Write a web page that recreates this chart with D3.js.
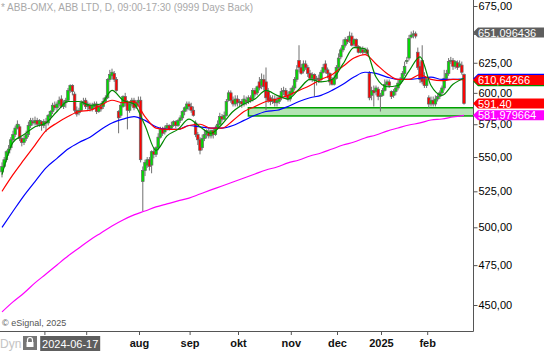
<!DOCTYPE html>
<html>
<head>
<meta charset="utf-8">
<script src="https://cdn.jsdelivr.net/npm/d3@7"></script>
<style>
  body { margin: 0; background: #fff; }
  svg { display: block; font-family: "Liberation Sans", Arial, sans-serif; }
</style>
</head>
<body>
<svg id="chart" width="544" height="351"></svg>
<script>
// ABB-OMX daily candles (SEK)
let opens = [
  539,543,548,553,557,563,567,572,573,564, 561,564,567,574,577,576,578,575,577,574,
  577,576,581,585,590,588,591,595,589,592, 594,602,606,599,586,584,586,592,594,589,
  590,587,589,591,585,589,589,593,596,611, 614,616,611,585,582,589,597,592,586,591,
  594,589,592,594,532,540,544,548,544,554, 552,557,565,571,569,572,574,572,574,577,
  574,578,580,585,587,591,589,586,576,567, 563,557,564,567,569,566,570,567,572,575,
  581,579,582,594,600,594,591,595,592,593, 591,594,593,596,595,602,600,609,606,611,
  609,601,596,593,595,592,593,596,601,602, 598,595,600,604,611,627,621,618,624,621,
  616,612,615,611,612,611,617,624,619,616, 611,607,612,621,630,636,640,645,644,648,
  641,645,639,634,636,634,636,616,598,602, 601,603,597,598,602,607,609,601,598,601,
  604,608,611,616,626,629,647,649,650,634, 622,627,612,606,596,591,594,591,595,597,
  600,604,612,616,626,627,622,625,622,623, 615
];
let highs = [
  546,550,555,559,565,570,574,578,575,565, 566,570,577,580,580,581,580,579,578,579,
  580,583,586,592,593,593,597,598,594,596, 604,607,607,601,589,588,594,596,596,593,
  592,592,593,593,591,592,596,598,612,619, 620,618,613,586,592,598,600,594,593,596,
  596,594,597,597,543,548,550,550,555,557, 558,568,573,573,574,576,575,577,578,578,
  579,582,586,589,593,593,592,589,578,569, 565,567,571,571,572,571,572,574,578,584,
  583,585,595,602,602,597,598,598,595,595, 598,597,598,598,604,604,606,613,616,615,
  621,604,598,598,598,597,598,604,605,604, 601,604,606,613,623,640,624,627,627,623,
  619,617,616,614,615,619,624,627,621,617, 613,615,623,633,638,645,647,648,652,651,
  646,646,640,639,639,638,638,618,605,606, 606,605,600,604,611,611,611,602,603,606,
  611,613,618,626,630,649,652,653,652,638, 626,640,617,613,598,597,597,598,599,602,
  606,619,619,629,630,629,627,627,627,626, 616
];
let lows = [
  535,542,546,551,555,561,565,571,562,558, 559,562,565,572,574,574,573,573,570,572,
  569,574,578,583,586,585,589,588,587,588, 593,600,598,584,581,582,585,590,587,586,
  585,585,588,583,584,585,587,592,595,609, 611,609,601,568,580,588,589,571,584,589,
  586,587,590,546,511,536,542,540,538,549, 550,555,564,566,567,570,570,571,573,572,
  573,576,578,582,585,586,584,581,565,559, 552,555,562,564,564,564,564,566,571,574,
  577,578,581,593,592,589,589,589,589,588, 589,590,591,592,593,597,598,602,603,602,
  586,592,590,591,589,589,591,594,598,596, 593,593,598,602,609,617,615,616,619,613,
  610,609,597,606,608,609,616,616,612,606, 606,606,611,619,628,634,638,641,642,639,
  639,638,633,633,632,633,631,594,594,589, 598,594,585,597,601,605,604,595,596,598,
  602,606,609,614,624,627,646,646,646,619, 608,607,604,604,588,589,589,589,593,595,
  598,602,611,614,624,619,620,619,621,615, 590.5
];
let closes = [
  543,548,554,556,563,567,572,575,564,561, 564,567,574,578,576,578,575,578,574,577,
  576,582,585,590,588,591,594,589,592,594, 602,606,601,586,583,586,592,593,589,591,
  587,590,591,585,589,587,593,596,611,615, 617,611,602,580,590,597,592,586,591,594,
  588,592,594,548,540,546,548,543,554,552, 557,565,571,568,572,574,571,574,577,574,
  578,580,585,588,591,589,586,582,567,563, 555,564,567,570,566,570,567,572,575,581,
  579,582,593,600,594,591,595,592,593,591, 595,593,596,594,602,599,605,604,611,605,
  596,594,593,595,592,594,596,601,602,598, 595,601,604,611,619,621,616,624,621,616,
  612,615,611,612,611,617,621,619,616,609, 607,612,621,629,636,640,645,643,648,640,
  645,639,634,637,634,636,633,596,602,600, 604,597,598,602,607,609,606,597,601,604,
  608,611,616,622,627,646,649,650,648,621, 611,609,606,611,591,594,591,595,597,600,
  604,612,616,626,627,622,626,621,624,617, 591.4
];

// moving averages, one reading every 5th candle
let maEvery = 5;
let maGreen = [537,561,567,573,576,585,593,593,590,591,602,594,591,574,555,566,571,579,573,568,575,
  585,591,595,602,598,595,603,611,609,611,624,638,637,613,605,606,618,630,606,598,607,612];
let maRed = [525,537,548,559,570,576,581,585,586,590,594,592,593,581,572,571,571,574,575,572,572,
  578,585,589,593,595,598,602,606,611,615,622,629,632,624,616,611,611,615,611,610,611,610.64266];
let maBlue = [500,511,522,532,542,549,556,561,565,571,576,579,581,578,573,571,571,574,573,572,572,
  574,578,582,585,586,589,593,596,598,602,607,613,617,616,613,611,611,612,613,611,611,611.5];
let maMagenta = [445.8,451.9,457.4,463.7,469.3,475.1,480.9,486.2,491.5,496.2,500.9,505.0,508.5,511.2,
  514.0,516.1,518.2,520.2,523.1,526.0,528.8,531.7,534.6,537.5,540.4,542.6,545.6,547.8,550.8,553.0,
  556.0,559.0,561.3,564.4,566.7,569.7,572.1,574.4,576.0,578.3,579.1,580.7,581.979664];

// support zone
let zoneLow = 581.5, zoneHigh = 588, zoneFrom = 112;

let priceTicks = [450, 475, 500, 525, 550, 575, 600, 625, 650, 675];
let hiddenTickLabels = [650];   // sits under the 651 tag
let monthNames = ["jun", "jul", "aug", "sep", "okt", "nov", "dec", "2025", "feb"];
let monthFirst = [20, 39, 63, 86, 108, 132, 153, 173, 194];   // candle index of first day

let tagValues = [611.5, 609.6, 610.64266, 651.096436, 591.40, 581.979664];
let tagTexts  = ["", "", "610,64266", "651,096436", "591,40", "581,979664"];
let tagColors = ["#0000ff", "#009000", "#ff0000", "#5e5e5e", "#ff0000", "#ff00ff"];

let cursorDate = "2024-06-17", cursorIndex = 31;

let svg = d3.select("#chart");
let plotRight = 473, plotBottom = 331;

let x = d3.scaleLinear().domain([0, closes.length - 1]).range([2, 464]);
let y = d3.scaleLog().domain([450, 675]).range([305, 6]);

svg.append("defs").append("clipPath").attr("id", "plot")
  .append("rect").attr("x", 0).attr("y", 0).attr("width", plotRight).attr("height", plotBottom);

let plot = svg.append("g").attr("clip-path", "url(#plot)");

// title
svg.append("text")
  .attr("x", 1).attr("y", 11)
  .attr("font-size", 10).attr("fill", "#a8a8a8")
  .text("* ABB-OMX, ABB LTD, D, 09:00-17:30 (9999 Days Back)");

// zone
plot.append("rect")
  .attr("x", x(zoneFrom))
  .attr("y", y(zoneHigh))
  .attr("width", plotRight - x(zoneFrom) + 2)
  .attr("height", y(zoneLow) - y(zoneHigh))
  .attr("fill", "#b4e4b4")
  .attr("stroke", "#00a000")
  .attr("stroke-width", 1.5);

// candles
let candles = plot.selectAll(".candle")
  .data(closes)
  .enter().append("g").attr("class", "candle");

candles.append("line")
  .attr("x1", (d, i) => x(i)).attr("x2", (d, i) => x(i))
  .attr("y1", (d, i) => y(highs[i])).attr("y2", (d, i) => y(lows[i]))
  .attr("stroke", "#707070").attr("stroke-width", 1);

candles.append("rect")
  .attr("x", (d, i) => x(i) - 1.3)
  .attr("width", 2.6)
  .attr("y", (d, i) => y(Math.max(opens[i], d)))
  .attr("height", (d, i) => Math.max(1, Math.abs(y(opens[i]) - y(d))))
  .attr("fill", (d, i) => d < opens[i] ? "#ff0000" : "#00dd00")
  .attr("stroke", "#666").attr("stroke-width", 0.7);

// moving averages
let maLine = d3.line()
  .x((d, k) => x(k * maEvery))
  .y(d => y(d))
  .curve(d3.curveMonotoneX);

[[maMagenta, "#ff00ff"], [maBlue, "#0000ff"], [maRed, "#ff0000"], [maGreen, "#008800"]]
  .forEach(function (m) {
    plot.append("path")
      .datum(m[0])
      .attr("d", maLine)
      .attr("fill", "none")
      .attr("stroke", m[1])
      .attr("stroke-width", 1.2);
  });

// frame
svg.append("line").attr("x1", plotRight + 0.5).attr("x2", plotRight + 0.5)
  .attr("y1", 0).attr("y2", plotBottom + 0.5).attr("stroke", "#555");
svg.append("line").attr("x1", 0).attr("x2", plotRight + 0.5)
  .attr("y1", plotBottom + 0.5).attr("y2", plotBottom + 0.5).attr("stroke", "#555");

// price axis
let yAxis = d3.axisRight(y)
  .tickValues(priceTicks)
  .tickSize(4)
  .tickPadding(1)
  .tickFormat(d => hiddenTickLabels.includes(d) ? "" : d3.format(".2f")(d).replace(".", ","));

let ya = svg.append("g")
  .attr("transform", "translate(" + (plotRight + 0.5) + ",0)")
  .call(yAxis);
ya.select(".domain").remove();
ya.selectAll("line").attr("stroke", "#555");
ya.selectAll("text").attr("font-size", 11).attr("fill", "#000")
  .attr("font-family", "'Liberation Sans', Arial, sans-serif");

// value tags on the price axis
tagValues.forEach(function (v, k) {
  let cy = y(v);
  svg.append("path")
    .attr("d", "M" + plotRight + "," + cy + " L" + (plotRight + 5) + "," + (cy - 5) +
      " H544 V" + (cy + 5) + " H" + (plotRight + 5) + " Z")
    .attr("fill", tagColors[k]);
  if (tagTexts[k]) {
    svg.append("text")
      .attr("x", plotRight + 5).attr("y", cy + 4)
      .attr("font-size", 11).attr("fill", "#fff")
      .text(tagTexts[k]);
  }
});

// date axis
let boxW = 60;
let boxX = x(cursorIndex) - boxW / 2;

monthFirst.forEach(function (m, k) {
  let tx = x(m - 0.5);
  svg.append("line").attr("x1", tx).attr("x2", tx)
    .attr("y1", plotBottom + 1).attr("y2", plotBottom + 4).attr("stroke", "#555");
  if (tx > boxX - 12 && tx < boxX + boxW + 12) return;   // hidden by the cursor date
  svg.append("text")
    .attr("x", tx).attr("y", 347)
    .attr("text-anchor", "middle")
    .attr("font-size", 11).attr("font-weight", "bold").attr("fill", "#111")
    .text(monthNames[k]);
});

svg.append("rect").attr("x", boxX).attr("y", 336).attr("width", boxW).attr("height", 15)
  .attr("fill", "#5e5e5e");
svg.append("text").attr("x", boxX + boxW / 2).attr("y", 347.5)
  .attr("text-anchor", "middle").attr("font-size", 11).attr("fill", "#fff")
  .text(cursorDate);

svg.append("text").attr("x", 0).attr("y", 348)
  .attr("font-size", 12).attr("fill", "#c4c4c4").text("Dyn");

// lock button
svg.append("rect").attr("x", 23).attr("y", 336).attr("width", 14).attr("height", 14)
  .attr("fill", "#777");
svg.append("path")
  .attr("d", "M27.5,342 V340 A2.5,2.5 0 0 1 32.5,340 V342")
  .attr("fill", "none").attr("stroke", "#fff").attr("stroke-width", 1.2);
svg.append("rect").attr("x", 26.5).attr("y", 342).attr("width", 7).attr("height", 5)
  .attr("fill", "#fff");

svg.append("text").attr("x", 2).attr("y", 326)
  .attr("font-size", 9).attr("fill", "#555").text("\u00a9 eSignal, 2025");
</script>
</body>
</html>
